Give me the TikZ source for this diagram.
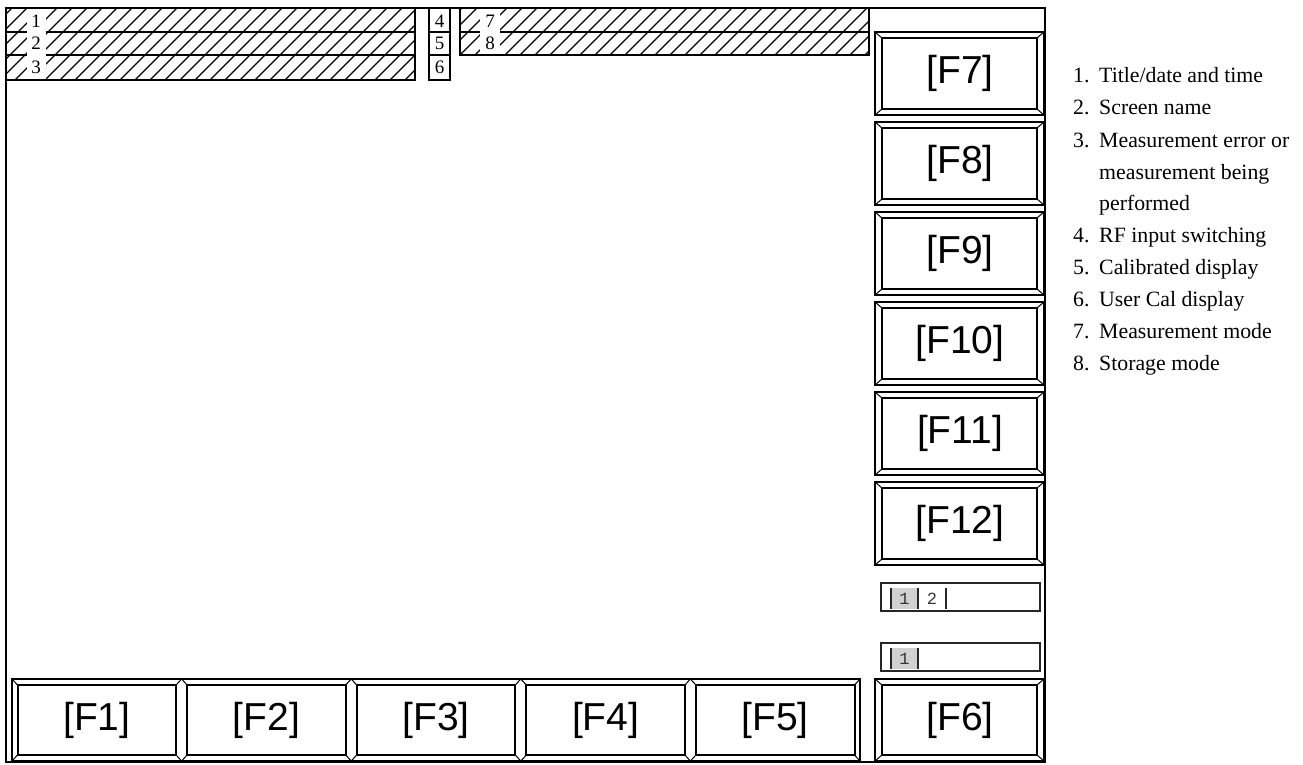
\documentclass[tikz,border=0pt]{standalone}
\usepackage{fontspec}
\setmainfont{Liberation Serif}
\setsansfont{Liberation Sans}
\setmonofont{Liberation Mono}
\newcommand{\bvlbtn}[5]{%
 \draw[btnin] ({#1+#5},{#2+6}) rectangle ({#3-#5},{#4-6});
 \draw[btndiag] (#1,#2) -- ({#1+#5},{#2+6}) (#3,#2) -- ({#3-#5},{#2+6})
   (#1,#4) -- ({#1+#5},{#4-6}) (#3,#4) -- ({#3-#5},{#4-6});}
\begin{document}
\begin{tikzpicture}[x=1pt,y=-1pt,
  frame/.style={line width=1.3pt},
  blk/.style={line width=2.2pt},
  hatch/.style={line width=1.1pt},
  btnout/.style={line width=2.2pt},
  btnin/.style={line width=2pt},
  btndiag/.style={line width=1pt},
  flabel/.style={font=\sffamily\fontsize{39}{41}\selectfont, inner sep=0pt},
  num/.style={font=\fontsize{19}{19}\selectfont, inner sep=0pt},
  legn/.style={font=\fontsize{21.8}{22}\selectfont, inner sep=0pt, anchor=base west},
  mono/.style={font=\ttfamily\fontsize{17}{17}\selectfont, text=black!80, inner sep=0pt},
  cell/.style={line width=1.3pt, draw=black!85},
  cellfill/.style={fill=black!18}]
\useasboundingbox (0,0) rectangle (1303,765);

% main frame
\draw[frame] (6,8) rectangle (1045,762);

% hatched block 1-3
\begin{scope}
  \clip (6,8) rectangle (415,80);
  \foreach \x in {-90,-75,...,420} \draw[hatch] (\x,80) -- ({\x+72},8);
\end{scope}
\fill[white] (27,9) rectangle (46,79);
\draw[blk] (6,8) rectangle (415,80);
\draw[blk] (6,32) -- (27,32) (46,32) -- (415,32);
\draw[blk] (6,55) -- (27,55) (46,55) -- (415,55);
\node[num] (n1) at (36,21) {1};
\node[num] (n2) at (36,43.5) {2};
\node[num] (n3) at (36,67) {3};

% boxes 4-6
\draw[blk] (429,8) rectangle (450,32);
\draw[blk] (429,32) rectangle (450,55);
\draw[blk] (429,55) rectangle (450,80);
\node[num] (n4) at (439.5,21) {4};
\node[num] (n5) at (439.5,43.5) {5};
\node[num] (n6) at (439.5,67) {6};

% hatched block 7-8
\begin{scope}
  \clip (460,8) rectangle (869,55);
  \foreach \x in {400,415,...,880} \draw[hatch] (\x,55) -- ({\x+47},8);
\end{scope}
\fill[white] (480,9) rectangle (500,54);
\draw[blk] (460,8) rectangle (869,55);
\draw[blk] (460,32) -- (480,32) (500,32) -- (869,32);
\node[num] (n7) at (490,21) {7};
\node[num] (n8) at (490,43.5) {8};

% right buttons F7-F12
\foreach \k/\lab in {0/F7,1/F8,2/F9,3/F10,4/F11,5/F12}{
  \pgfmathsetmacro{\yt}{32+90*\k}
  \pgfmathsetmacro{\yb}{115+90*\k}
  \pgfmathsetmacro{\yc}{73.5+90*\k}
  \draw[btnout] (875,\yt) rectangle (1044,\yb);
  \bvlbtn{875}{\yt}{1044}{\yb}{7}
  \node[flabel] (b\lab) at (960,\yc) {[\lab]};
}

% bottom buttons F1-F5
\draw[btnout] (12,679) rectangle (860,761);
\foreach \i/\lab in {0/F1,1/F2,2/F3,3/F4,4/F5}{
  \pgfmathsetmacro{\xa}{12+169.6*\i}
  \pgfmathsetmacro{\xb}{12+169.6*(\i+1)}
  \pgfmathsetmacro{\xc}{12+169.6*(\i+0.5)}
  \bvlbtn{\xa}{679}{\xb}{761}{5.5}
  \node[flabel] (b\lab) at (\xc,720) {[\lab]};
}

% F6
\draw[btnout] (875,679) rectangle (1044,761);
\bvlbtn{875}{679}{1044}{761}{7}
\node[flabel] (bF6) at (960,720) {[F6]};

% indicator cells
\draw[cell] (881,583) rectangle (1040,611);
\fill[cellfill] (891,588) rectangle (918,609);
\draw[cell] (891,588) -- (891,609) (918,588) -- (918,609) (946,588) -- (946,609);
\node[mono] (c11) at (904.5,599) {1};
\node[mono] (c12) at (932,599) {2};

\draw[cell] (881,643) rectangle (1040,671);
\fill[cellfill] (891,648) rectangle (918,669);
\draw[cell] (891,648) -- (891,669) (918,648) -- (918,669);
\node[mono] (c21) at (904.5,659) {1};

% legend
\node[legn] (l1n) at (1073,83) {1.};
\node[legn] (l1) at (1099,83) {Title/date and time};
\node[legn] (l2n) at (1073,115) {2.};
\node[legn] (l2) at (1099,115) {Screen name};
\node[legn] (l3n) at (1073,147) {3.};
\node[legn] (l3) at (1099,147) {Measurement error or};
\node[legn] (l3b) at (1099,179) {measurement being};
\node[legn] (l3c) at (1099,210) {performed};
\node[legn] (l4n) at (1073,242) {4.};
\node[legn] (l4) at (1099,242) {RF input switching};
\node[legn] (l5n) at (1073,274) {5.};
\node[legn] (l5) at (1099,274) {Calibrated display};
\node[legn] (l6n) at (1073,306) {6.};
\node[legn] (l6) at (1099,306) {User Cal display};
\node[legn] (l7n) at (1073,338) {7.};
\node[legn] (l7) at (1099,338) {Measurement mode};
\node[legn] (l8n) at (1073,370) {8.};
\node[legn] (l8) at (1099,370) {Storage mode};
\end{tikzpicture}
\end{document}
